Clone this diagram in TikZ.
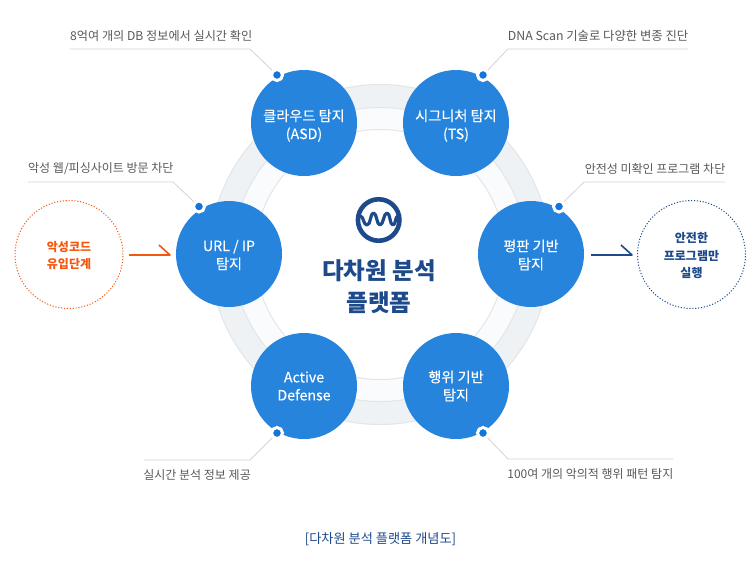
\documentclass[tikz,border=0pt]{standalone}
\usepackage{fontspec}
\usetikzlibrary{calc}
\setmainfont{Noto Sans CJK KR}
\newfontfamily\medfont[FakeBold=0.12]{Noto Sans CJK KR}
\definecolor{blueC}{HTML}{2784DC}
\definecolor{dotC}{HTML}{1275D8}
\definecolor{navyC}{HTML}{1E4A8C}
\definecolor{orangeC}{HTML}{F5570F}
\definecolor{grayT}{HTML}{595959}
\definecolor{leaderC}{HTML}{D2D4D6}
\definecolor{ringA}{HTML}{EFF2F5}
\definecolor{ringB}{HTML}{FAFBFC}
\definecolor{ringE}{HTML}{E3E5E8}
\tikzset{
  x=1pt,y=-1pt,
  det/.style={circle,fill=blueC,minimum size=106pt,inner sep=0pt,text=white,align=center,font=\medfont\fontsize{14.2}{18}\selectfont},
  dettext/.style={text=white,align=center,inner sep=0pt,font=\medfont\fontsize{14.2}{18}\selectfont},
  pin/.style={circle,fill=dotC,draw=white,line width=3pt,minimum size=11pt,inner sep=0pt},
  leader/.style={draw=leaderC,line width=0.8pt},
  lbl/.style={text=grayT,font=\fontsize{12}{14}\selectfont,inner sep=0pt},
  gate/.style={circle,minimum size=108pt,inner sep=0pt,align=center,line width=1pt,dash pattern=on 1.1pt off 1.8pt},
  gatetext/.style={align=center,inner sep=0pt,font=\fontsize{12}{17.5}\selectfont\bfseries},
  halfarrow/.style={line width=1.6pt,line join=round},
  ring/.style={draw=ringE,line width=1pt}
}
\begin{document}
\begin{tikzpicture}
\useasboundingbox (0,0) rectangle (755,566);
\fill[white] (0,0) rectangle (755,566);
% rings
\draw[ring,fill=ringA] (380,254.5) circle (170pt);
\draw[ring,fill=ringB] (380,254.5) circle (147pt);
\draw[ring,fill=white] (380,254.5) circle (125pt);
% leaders (under the pins)
\coordinate (c1a) at (250,49);  \coordinate (c1b) at (70,49);
\coordinate (c2a) at (508,49);  \coordinate (c2b) at (688,49);
\coordinate (c3a) at (173,182); \coordinate (c3b) at (28,182);
\coordinate (c4a) at (584,182); \coordinate (c4b) at (725,182);
\coordinate (c5a) at (250,460); \coordinate (c5b) at (144,460);
\coordinate (c6a) at (508,459); \coordinate (c6b) at (673,459);
\node[pin] (p1) at (277,75) {};
\node[pin] (p2) at (483,75) {};
\node[pin] (p3) at (199,206.5) {};
\node[pin] (p4) at (559,206.5) {};
\node[pin] (p5) at (277,433) {};
\node[pin] (p6) at (483,433) {};
\draw[leader] (p1) -- (c1a) -- (c1b);
\draw[leader] (p2) -- (c2a) -- (c2b);
\draw[leader] (p3) -- (c3a) -- (c3b);
\draw[leader] (p4) -- (c4a) -- (c4b);
\draw[leader] (p5) -- (c5a) -- (c5b);
\draw[leader] (p6) -- (c6a) -- (c6b);
% main circles
\node[det] (asd) at (304,123) {};
\node[det] (ts)  at (456,123) {};
\node[det] (url) at (229,254) {};
\node[det] (rep) at (531,254) {};
\node[det] (act) at (304,386) {};
\node[det] (beh) at (456,386) {};
\node[dettext] (asdt) at ($(asd)+(0,2.6)$) {클라우드 탐지\\(ASD)};
\node[dettext] (tst) at ($(ts)+(0,2.6)$) {시그니처 탐지\\(TS)};
\node[dettext] (urlt) at ($(url)+(0,1)$) {URL / IP\\탐지};
\node[dettext] (rept) at ($(rep)+(0,1)$) {평판 기반\\탐지};
\node[dettext] (actt) at ($(act)+(0,0)$) {Active\\Defense};
\node[dettext] (beht) at ($(beh)+(0,0)$) {행위 기반\\탐지};
% pins above the circles
\node[pin] (q1) at (p1) {};
\node[pin] (q2) at (p2) {};
\node[pin] (q3) at (p3) {};
\node[pin] (q4) at (p4) {};
\node[pin] (q5) at (p5) {};
\node[pin] (q6) at (p6) {};
% labels
\node[lbl,anchor=west,font=\fontsize{12.15}{14}\selectfont] (l1) at (70,35.5) {8억여 개의 DB 정보에서 실시간 확인};
\node[lbl,anchor=east,font=\fontsize{12.35}{14}\selectfont] (l2) at (688.5,35.5) {DNA Scan 기술로 다양한 변종 진단};
\node[lbl,anchor=west] (l3) at (28,169) {악성 웹/피싱사이트 방문 차단};
\node[lbl,anchor=east] (l4) at (725.5,168.5) {안전성 미확인 프로그램 차단};
\node[lbl,anchor=east] (l5) at (251,475) {실시간 분석 정보 제공};
\node[lbl,anchor=east] (l6) at (673.5,474) {100여 개의 악의적 행위 패턴 탐지};
% gates
\node[gate,draw=orangeC] (mal) at (69,254.5) {};
\node[gate,draw=navyC] (safe) at (691.5,254.5) {};
\node[gatetext,text=orangeC] (malt) at ($(mal)+(0,1)$) {악성코드\\유입단계};
\node[gatetext,text=navyC] (safet) at ($(safe)+(0,1)$) {안전한\\프로그램만\\실행};
% arrows
\coordinate (a1s) at (129,255); \coordinate (a1e) at (170,255); \coordinate (a1h) at (159,245);
\coordinate (a2s) at (591,255); \coordinate (a2e) at (632,255); \coordinate (a2h) at (621,245);
\draw[halfarrow,orangeC] (a1s) -- (a1e) -- (a1h);
\draw[halfarrow,navyC] (a2s) -- (a2e) -- (a2h);
% logo
\node[circle,draw=navyC,line width=4.6pt,minimum size=41.5pt,inner sep=0pt] (logo) at (378.7,220) {};
\draw[navyC,line width=3.2pt,line cap=round,line join=round]
  (360,216) .. controls (364,216) and (363,225) .. (367,225)
  .. controls (371,225) and (370,213) .. (373.5,213)
  .. controls (377,213) and (376.5,225) .. (380,225)
  .. controls (383.5,225) and (383.5,213) .. (387,213)
  .. controls (390.5,213) and (389.5,225) .. (393,225)
  .. controls (396,225) and (395,216) .. (398,216);
% centre title
\node[text=navyC,align=center,inner sep=0pt,font=\fontsize{23.5}{31.5}\selectfont\bfseries] (title) at (379,286.5) {다차원 분석\\플랫폼};
% caption
\node[text=navyC,inner sep=0pt,font=\fontsize{13.2}{15}\selectfont] (cap) at (380.5,539.5) {[다차원 분석 플랫폼 개념도]};
\end{tikzpicture}
\end{document}
